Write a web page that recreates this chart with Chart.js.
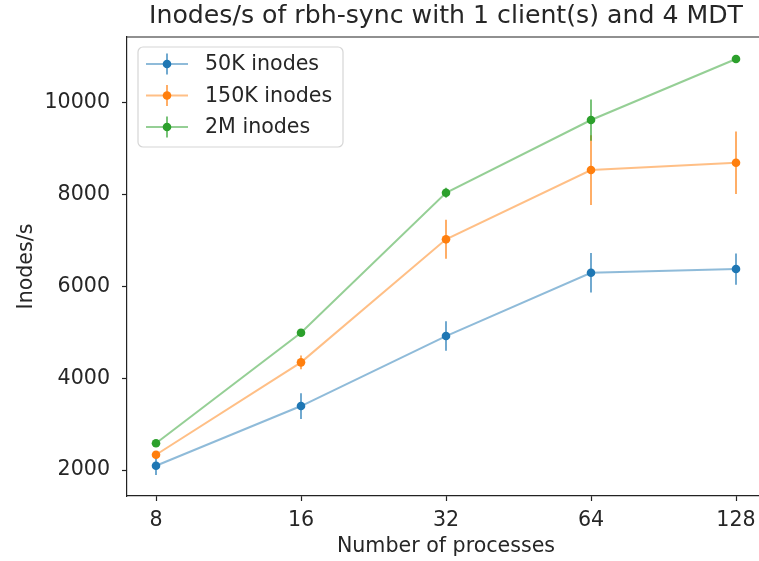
<!DOCTYPE html>
<html lang="en">
<head>
    <meta charset="UTF-8">
    <title>Inodes/s of rbh-sync</title>
    <script src="https://cdn.jsdelivr.net/npm/chart.js"></script>
    <style>
        html, body { margin: 0; padding: 0; overflow: hidden; background: #fff; }
        #wrap { width: 759px; height: 561px; overflow: hidden; position: relative; }
        canvas { display: block; position: absolute; left: 0; top: 0; }
    </style>
</head>
<body>
    <div id="wrap">
        <canvas id="chart" width="800" height="561" style="width:800px;height:561px"></canvas>
    </div>

    <script>
        // data
        const processes = [8, 16, 32, 64, 128];
        const yTicks = [2000, 4000, 6000, 8000, 10000];

        const inodes50k = [2094, 3394, 4919, 6298, 6379];
        const inodes50kErr = [200, 280, 320, 430, 340];
        const inodes150k = [2333, 4346, 7026, 8536, 8695];
        const inodes150kErr = [80, 150, 425, 760, 680];
        const inodes2m = [2582, 4991, 8041, 9625, 10954];
        const inodes2mErr = [30, 50, 110, 450, 30];

        const seriesLabels = ['50K inodes', '150K inodes', '2M inodes'];

        const FONT = "'DejaVu Sans', sans-serif";
        const TEXT = '#262626';
        const LABEL_SIZE = 20.6;

        function rgba(rgb, a) { return 'rgba(' + rgb.join(',') + ',' + a + ')'; }
        const blue = [31, 119, 180], orange = [255, 127, 14], green = [44, 160, 44];

        function series(label, vals, errs, rgb, order) {
            return {
                label: label,
                data: processes.map((p, i) => ({ x: p, y: vals[i] })),
                errors: errs,
                rgb: rgb,
                borderColor: rgba(rgb, 0.5),
                borderWidth: 2,
                pointRadius: 4.3,
                pointBackgroundColor: rgba(rgb, 1),
                pointBorderWidth: 0,
                tension: 0,
                order: order
            };
        }

        // error bars + matplotlib-like frame, title, labels and legend
        const deco = {
            id: 'deco',
            afterDatasetDraw(chart, args) {
                const ds = chart.data.datasets[args.index];
                const ys = chart.scales.y;
                const ctx = chart.ctx;
                ctx.save();
                ctx.strokeStyle = rgba(ds.rgb, 0.7);
                ctx.lineWidth = 1.8;
                args.meta.data.forEach((pt, i) => {
                    const v = ds.data[i].y, e = ds.errors[i];
                    ctx.beginPath();
                    ctx.moveTo(pt.x, ys.getPixelForValue(v + e));
                    ctx.lineTo(pt.x, ys.getPixelForValue(v - e));
                    ctx.stroke();
                });
                ctx.restore();
            },
            afterDraw(chart) {
                const ctx = chart.ctx;
                const a = chart.chartArea;
                ctx.save();
                // top and right spines (right one falls outside the picture)
                ctx.strokeStyle = '#222';
                ctx.lineWidth = 1.2;
                ctx.beginPath();
                ctx.moveTo(a.left, a.top);
                ctx.lineTo(a.right, a.top);
                ctx.lineTo(a.right, a.bottom);
                ctx.stroke();

                const cx = (a.left + a.right) / 2;
                ctx.fillStyle = TEXT;
                ctx.textAlign = 'center';
                ctx.textBaseline = 'middle';
                ctx.font = '25.2px ' + FONT;
                ctx.fillText('Inodes/s of rbh-sync with 1 client(s) and 4 MDT', cx, 16);
                ctx.font = LABEL_SIZE + 'px ' + FONT;
                ctx.fillText('Number of processes', cx, 547);
                ctx.save();
                ctx.translate(27, (a.top + a.bottom) / 2);
                ctx.rotate(-Math.PI / 2);
                ctx.fillText('Inodes/s', 0, 0);
                ctx.restore();

                // legend
                const lx = a.left + 11, ly = a.top + 10, lw = 205, lh = 100;
                ctx.beginPath();
                ctx.roundRect(lx, ly, lw, lh, 5);
                ctx.fillStyle = 'rgba(255,255,255,0.8)';
                ctx.fill();
                ctx.strokeStyle = '#d6d6d6';
                ctx.lineWidth = 1.2;
                ctx.stroke();
                chart.data.datasets.forEach((ds, i) => {
                    const ry = ly + 17 + i * 31.5;
                    const hx0 = lx + 8, hx1 = lx + 50, hm = (hx0 + hx1) / 2;
                    ctx.strokeStyle = rgba(ds.rgb, 0.5);
                    ctx.lineWidth = 2;
                    ctx.beginPath();
                    ctx.moveTo(hx0, ry);
                    ctx.lineTo(hx1, ry);
                    ctx.stroke();
                    ctx.strokeStyle = rgba(ds.rgb, 0.7);
                    ctx.lineWidth = 1.8;
                    ctx.beginPath();
                    ctx.moveTo(hm, ry - 10.5);
                    ctx.lineTo(hm, ry + 10.5);
                    ctx.stroke();
                    ctx.fillStyle = rgba(ds.rgb, 1);
                    ctx.beginPath();
                    ctx.arc(hm, ry, 4.3, 0, Math.PI * 2);
                    ctx.fill();
                    ctx.fillStyle = TEXT;
                    ctx.textAlign = 'left';
                    ctx.font = LABEL_SIZE + 'px ' + FONT;
                    ctx.fillText(ds.label, lx + 67, ry + 1);
                });
                ctx.restore();
            }
        };

        new Chart(document.getElementById('chart'), {
            type: 'line',
            data: {
                datasets: [
                    series(seriesLabels[0], inodes50k, inodes50kErr, blue, 3),
                    series(seriesLabels[1], inodes150k, inodes150kErr, orange, 2),
                    series(seriesLabels[2], inodes2m, inodes2mErr, green, 1)
                ]
            },
            options: {
                responsive: false,
                animation: false,
                devicePixelRatio: 1,
                layout: { padding: { top: 37, left: 0, right: 35, bottom: 0 } },
                plugins: {
                    legend: { display: false },
                    title: { display: false },
                    tooltip: { enabled: false }
                },
                scales: {
                    x: {
                        type: 'logarithmic',
                        min: processes[0] / Math.pow(2, 0.2),
                        max: processes[processes.length - 1] * Math.pow(2, 0.2),
                        afterBuildTicks: s => { s.ticks = processes.map(v => ({ value: v })); },
                        afterFit: s => { s.height = 65; },
                        grid: { drawOnChartArea: false, drawTicks: true, tickLength: 5, tickColor: '#222', tickWidth: 1.2 },
                        border: { display: true, color: '#222', width: 1.2 },
                        ticks: {
                            autoSkip: false, maxRotation: 0, padding: 7,
                            color: TEXT, font: { family: FONT, size: LABEL_SIZE },
                            callback: v => String(v)
                        }
                    },
                    y: {
                        min: 1434,
                        max: 11434,
                        afterBuildTicks: s => { s.ticks = yTicks.map(v => ({ value: v })); },
                        afterFit: s => { s.width = 127; },
                        grid: { drawOnChartArea: false, drawTicks: true, tickLength: 5, tickColor: '#222', tickWidth: 1.2 },
                        border: { display: true, color: '#222', width: 1.2 },
                        ticks: {
                            padding: 12,
                            color: TEXT, font: { family: FONT, size: LABEL_SIZE },
                            callback: v => String(v)
                        }
                    }
                }
            },
            plugins: [deco]
        });
    </script>
</body>
</html>
